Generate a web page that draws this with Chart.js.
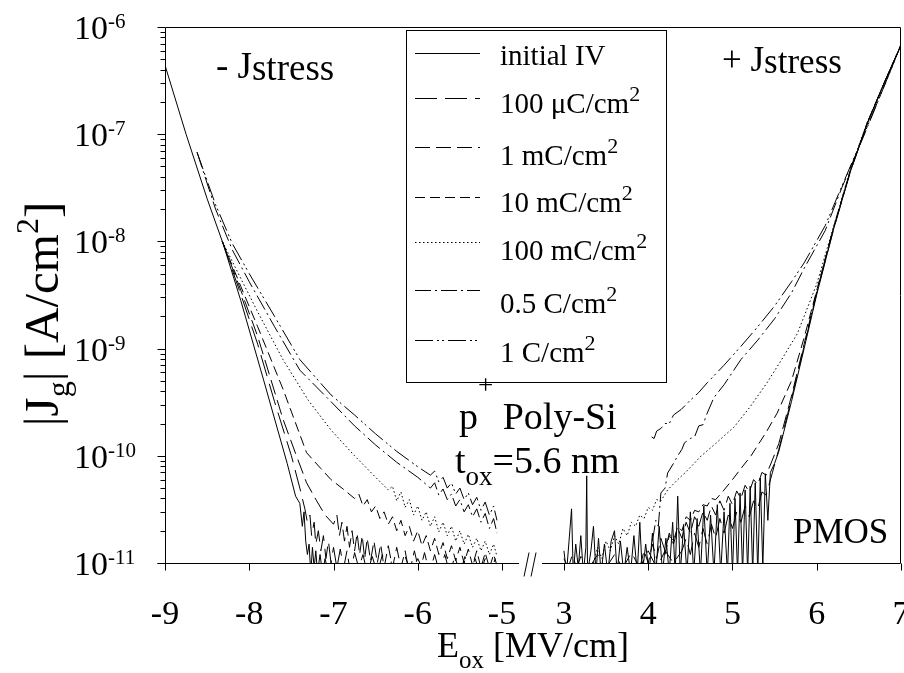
<!DOCTYPE html>
<html>
<head>
<meta charset="utf-8">
<script src="https://cdn.jsdelivr.net/npm/chart.js@4.4.1/dist/chart.umd.min.js"></script>
<style>
  html, body { margin:0; padding:0; background:#fff; }
  #wrap { width:904px; height:673px; }
</style>
</head>
<body>
<div id="wrap"><canvas id="chart" width="904" height="673"></canvas></div>
<script>
// ── DATA ──
// E_ox in MV/cm, |Jg| in A/cm^2

const xTicksNeg = [-9, -8, -7, -6, -5];
const xTicksPos = [3, 4, 5, 6, 7];
const yTickExps = [-6, -7, -8, -9, -10, -11];

const seriesNames = ['initial IV', '100 \u03BCC/cm^2', '1 mC/cm^2', '10 mC/cm^2', '100 mC/cm^2', '0.5 C/cm^2', '1 C/cm^2'];

// negative field branch (- Jstress)
const initialNeg = [[-9.0,4.4e-7],[-8.75,1.0e-7],[-8.5,2.5e-8],[-8.31,9.5e-9],[-8.1,2.8e-9],[-7.83,5.1e-10],[-7.55,8.5e-11],[-7.45,4.2e-11],[-7.4,3.6e-11],[-7.37,2.2e-11],[-7.35,3.0e-11],[-7.33,1.6e-11],[-7.31,1.2e-11],[-7.29,1.5e-11],[-7.27,8e-12],[-7.25,1.4e-11],[-7.23,9e-12],[-7.21,1.3e-11],[-7.19,8e-12],[-7.16,1.2e-11],[-7.13,8e-12],[-7.1,1.1e-11],[-7.06,8e-12]];
const uC100Neg = [[-8.32,1.0e-8],[-8.1,3.2e-9],[-7.9,1.1e-9],[-7.7,3.2e-10],[-7.5,1.0e-10],[-7.4,5.0e-11],[-7.34,3.2e-11],[-7.31,2.4e-11],[-7.28,2.8e-11],[-7.26,1.8e-11],[-7.23,2.4e-11],[-7.21,1.5e-11],[-7.18,2.0e-11],[-7.15,1.3e-11],[-7.12,1.8e-11],[-7.09,1.1e-11],[-7.06,1.6e-11],[-7.03,1.0e-11],[-7.0,1.4e-11],[-6.96,9e-12],[-6.92,1.35e-11],[-6.88,9e-12],[-6.84,1.3e-11],[-6.8,8e-12],[-6.75,1.25e-11],[-6.7,9e-12],[-6.65,1.2e-11],[-6.6,8e-12],[-6.54,1.15e-11],[-6.48,8e-12],[-6.42,1.2e-11],[-6.36,8e-12],[-6.3,1.1e-11],[-6.22,8e-12],[-6.15,1.15e-11],[-6.08,8e-12],[-6.0,1.1e-11],[-5.92,8e-12]];
const mC1Neg = [[-8.32,1.0e-8],[-8.1,3.5e-9],[-7.9,1.3e-9],[-7.6,2.2e-10],[-7.45,1.05e-10],[-7.32,5.6e-11],[-7.2,3.8e-11],[-7.1,2.8e-11],[-7.0,2.3e-11],[-6.96,2.8e-11],[-6.93,1.8e-11],[-6.9,2.4e-11],[-6.87,1.6e-11],[-6.84,2.2e-11],[-6.81,1.4e-11],[-6.78,2.0e-11],[-6.75,1.3e-11],[-6.72,1.9e-11],[-6.69,1.2e-11],[-6.66,1.8e-11],[-6.63,1.1e-11],[-6.6,1.7e-11],[-6.56,1.05e-11],[-6.52,1.6e-11],[-6.48,1.0e-11],[-6.44,1.5e-11],[-6.4,9e-12],[-6.35,1.45e-11],[-6.3,9e-12],[-6.25,1.4e-11],[-6.2,9e-12],[-6.15,1.3e-11],[-6.1,8e-12],[-6.04,1.3e-11],[-5.98,8e-12],[-5.92,1.25e-11],[-5.86,8e-12],[-5.8,1.2e-11],[-5.74,8e-12],[-5.68,1.2e-11],[-5.62,8e-12],[-5.56,1.15e-11],[-5.5,8e-12],[-5.44,1.15e-11],[-5.38,8e-12],[-5.32,1.1e-11],[-5.26,8e-12],[-5.2,1.1e-11],[-5.14,8e-12],[-5.08,1.1e-11]];
const mC10Neg = [[-8.32,1.0e-8],[-8.1,3.8e-9],[-7.9,1.6e-9],[-7.6,4.2e-10],[-7.32,1.07e-10],[-7.15,7.6e-11],[-7.03,6.0e-11],[-6.9,5.0e-11],[-6.75,4.0e-11],[-6.7,4.4e-11],[-6.65,3.4e-11],[-6.6,3.9e-11],[-6.55,3.0e-11],[-6.5,3.4e-11],[-6.45,2.6e-11],[-6.4,3.0e-11],[-6.35,2.3e-11],[-6.3,2.7e-11],[-6.25,2.0e-11],[-6.2,2.5e-11],[-6.15,1.8e-11],[-6.1,2.2e-11],[-6.05,1.6e-11],[-6.0,2.0e-11],[-5.95,1.45e-11],[-5.9,1.8e-11],[-5.85,1.3e-11],[-5.8,1.7e-11],[-5.75,1.2e-11],[-5.7,1.55e-11],[-5.65,1.1e-11],[-5.6,1.45e-11],[-5.55,1.05e-11],[-5.5,1.4e-11],[-5.45,1.0e-11],[-5.4,1.35e-11],[-5.35,9.5e-12],[-5.3,1.3e-11],[-5.25,9e-12],[-5.2,1.25e-11],[-5.15,9e-12],[-5.1,1.2e-11],[-5.06,9.5e-12]];
const mC100Neg = [[-8.32,1.0e-8],[-8.1,4.5e-9],[-7.9,2.2e-9],[-7.6,7.9e-10],[-7.3,3.3e-10],[-7.03,1.74e-10],[-6.75,1.0e-10],[-6.5,6.3e-11],[-6.35,4.8e-11],[-6.3,5.2e-11],[-6.25,3.8e-11],[-6.2,4.6e-11],[-6.15,3.3e-11],[-6.1,3.9e-11],[-6.05,2.8e-11],[-6.0,3.4e-11],[-5.95,2.5e-11],[-5.9,3.0e-11],[-5.85,2.2e-11],[-5.8,2.7e-11],[-5.75,1.95e-11],[-5.7,2.4e-11],[-5.65,1.8e-11],[-5.6,2.2e-11],[-5.55,1.6e-11],[-5.5,2.0e-11],[-5.45,1.5e-11],[-5.4,1.85e-11],[-5.35,1.4e-11],[-5.3,1.7e-11],[-5.25,1.3e-11],[-5.2,1.6e-11],[-5.15,1.2e-11],[-5.1,1.5e-11],[-5.06,1.15e-11]];
const C05Neg = [[-8.62,6.8e-8],[-8.4,2.0e-8],[-8.2,8.3e-9],[-8.0,4.2e-9],[-7.7,1.6e-9],[-7.4,6.3e-10],[-7.03,3.2e-10],[-6.75,1.9e-10],[-6.5,1.26e-10],[-6.25,8.7e-11],[-6.0,6.3e-11],[-5.85,5.0e-11],[-5.8,5.6e-11],[-5.75,4.3e-11],[-5.7,4.9e-11],[-5.65,3.9e-11],[-5.6,4.4e-11],[-5.55,3.4e-11],[-5.5,3.9e-11],[-5.45,3.0e-11],[-5.4,3.5e-11],[-5.35,2.7e-11],[-5.3,3.2e-11],[-5.25,2.4e-11],[-5.2,2.9e-11],[-5.15,2.1e-11],[-5.1,2.6e-11],[-5.06,1.9e-11]];
const C1Neg = [[-8.62,6.8e-8],[-8.4,2.2e-8],[-8.2,9.5e-9],[-8.0,5.0e-9],[-7.7,2.0e-9],[-7.4,7.9e-10],[-7.03,3.7e-10],[-6.75,2.4e-10],[-6.5,1.6e-10],[-6.25,1.1e-10],[-6.0,7.9e-11],[-5.85,6.6e-11],[-5.8,7.2e-11],[-5.75,5.7e-11],[-5.7,6.3e-11],[-5.65,5.0e-11],[-5.6,5.6e-11],[-5.55,4.4e-11],[-5.5,5.0e-11],[-5.45,3.9e-11],[-5.4,4.5e-11],[-5.35,3.5e-11],[-5.3,4.1e-11],[-5.25,3.1e-11],[-5.2,3.7e-11],[-5.15,2.8e-11],[-5.1,3.4e-11],[-5.06,2.5e-11]];

// positive field branch (+ Jstress)
const initialPos = [[3.0,1.3e-11],[3.03,8e-12],[3.06,1.6e-11],[3.09,3.2e-11],[3.11,8e-12],[3.14,1.5e-11],[3.17,9e-12],[3.2,1.8e-11],[3.23,8e-12],[3.26,1.4e-11],[3.27,6.5e-11],[3.28,8e-12],[3.32,1.3e-11],[3.35,2.2e-11],[3.38,8e-12],[3.41,1.7e-11],[3.44,8e-12],[3.48,1.5e-11],[3.52,8e-12],[3.56,1.6e-11],[3.6,2.0e-11],[3.63,8e-12],[3.67,1.6e-11],[3.71,8e-12],[3.75,1.4e-11],[3.79,8e-12],[3.83,1.8e-11],[3.87,8e-12],[3.9,2.4e-11],[3.93,8e-12],[3.97,1.5e-11],[4.01,8e-12],[4.05,1.9e-11],[4.09,8e-12],[4.13,2.2e-11],[4.17,8e-12],[4.21,1.7e-11],[4.25,8e-12],[4.29,2.4e-11],[4.32,8e-12],[4.35,4.2e-11],[4.38,8e-12],[4.42,2.2e-11],[4.46,8e-12],[4.5,3.0e-11],[4.54,8e-12],[4.58,2.6e-11],[4.62,8e-12],[4.66,3.4e-11],[4.7,8e-12],[4.74,2.8e-11],[4.78,8e-12],[4.82,3.5e-11],[4.86,8e-12],[4.9,3.0e-11],[4.94,8e-12],[4.97,3.6e-11],[5.0,8e-12],[5.03,4.0e-11],[5.06,8e-12],[5.09,4.5e-11],[5.12,8e-12],[5.15,4.8e-11],[5.18,8e-12],[5.21,5.2e-11],[5.24,8e-12],[5.27,5.6e-11],[5.3,8e-12],[5.33,6.2e-11],[5.36,9e-12],[5.39,6.8e-11],[5.42,2.5e-11],[5.45,7.0e-11],[5.5,8.5e-11],[5.55,1.1e-10],[5.7,3.2e-10],[5.85,1.0e-9],[6.0,3.2e-9],[6.2,1.3e-8],[6.4,4.5e-8],[6.6,1.26e-7],[6.8,3.0e-7],[7.0,6.8e-7]];
const uC100Pos = [[3.0,1.1e-11],[3.05,9e-12],[3.1,1.2e-11],[3.15,9e-12],[3.2,1.15e-11],[3.3,9e-12],[3.4,1.2e-11],[3.5,9e-12],[3.6,1.2e-11],[3.7,9e-12],[3.8,1.25e-11],[3.9,9e-12],[4.0,1.3e-11],[4.1,9e-12],[4.2,1.3e-11],[4.3,1.0e-11],[4.4,1.3e-11],[4.45,1.7e-11],[4.5,1.2e-11],[4.55,1.9e-11],[4.6,1.4e-11],[4.65,2.1e-11],[4.7,1.5e-11],[4.75,2.3e-11],[4.8,1.7e-11],[4.85,2.6e-11],[4.9,1.9e-11],[4.95,2.8e-11],[5.0,2.1e-11],[5.05,3.0e-11],[5.1,2.4e-11],[5.15,3.4e-11],[5.2,2.7e-11],[5.25,3.8e-11],[5.3,3.2e-11],[5.35,4.6e-11],[5.4,4.3e-11],[5.47,6.8e-11],[5.55,1.15e-10],[5.7,3.4e-10],[5.85,1.05e-9],[6.0,3.3e-9],[6.2,1.3e-8],[6.4,4.5e-8],[6.6,1.26e-7],[6.8,3.0e-7],[7.0,6.8e-7]];
const mC1Pos = [[3.9,9e-12],[3.95,1.3e-11],[4.0,1.0e-11],[4.05,1.5e-11],[4.1,1.1e-11],[4.15,1.7e-11],[4.2,1.3e-11],[4.25,1.9e-11],[4.3,1.5e-11],[4.35,2.1e-11],[4.4,1.7e-11],[4.45,2.4e-11],[4.5,1.9e-11],[4.55,2.7e-11],[4.6,2.2e-11],[4.65,3.0e-11],[4.7,2.5e-11],[4.75,3.4e-11],[4.8,2.8e-11],[4.85,3.8e-11],[4.9,3.1e-11],[4.95,4.2e-11],[5.0,3.5e-11],[5.05,4.7e-11],[5.1,4.0e-11],[5.15,5.3e-11],[5.2,4.6e-11],[5.25,6.0e-11],[5.3,5.4e-11],[5.35,7.0e-11],[5.4,6.6e-11],[5.47,9.0e-11],[5.55,1.3e-10],[5.7,3.6e-10],[5.85,1.1e-9],[6.0,3.4e-9],[6.2,1.35e-8],[6.4,4.6e-8],[6.6,1.27e-7],[6.8,3.0e-7],[7.0,6.8e-7]];
const mC10Pos = [[4.2,1.2e-11],[4.25,1.8e-11],[4.3,1.6e-11],[4.35,2.2e-11],[4.4,2.0e-11],[4.45,2.7e-11],[4.5,2.5e-11],[4.55,3.1e-11],[4.6,3.0e-11],[4.65,3.5e-11],[4.7,3.4e-11],[4.75,4.0e-11],[4.8,3.9e-11],[4.9,4.8e-11],[5.0,6.0e-11],[5.1,7.6e-11],[5.22,1.0e-10],[5.4,1.66e-10],[5.53,2.5e-10],[5.7,5.0e-10],[5.85,1.26e-9],[6.0,3.5e-9],[6.2,1.35e-8],[6.4,4.6e-8],[6.6,1.28e-7],[6.8,3.0e-7],[7.0,6.8e-7]];
const mC100Pos = [[3.35,1.0e-11],[3.4,1.4e-11],[3.45,1.1e-11],[3.5,1.6e-11],[3.55,1.3e-11],[3.6,1.8e-11],[3.65,1.5e-11],[3.7,2.1e-11],[3.75,1.8e-11],[3.8,2.4e-11],[3.85,2.2e-11],[3.9,2.8e-11],[3.95,2.6e-11],[4.0,3.3e-11],[4.05,3.1e-11],[4.1,3.9e-11],[4.15,3.8e-11],[4.23,4.8e-11],[4.35,6.0e-11],[4.45,7.1e-11],[4.63,1.0e-10],[4.8,1.3e-10],[5.02,1.86e-10],[5.2,2.8e-10],[5.41,4.8e-10],[5.6,8.3e-10],[5.77,1.38e-9],[6.0,4.0e-9],[6.2,1.38e-8],[6.4,4.7e-8],[6.6,1.3e-7],[6.8,3.0e-7],[7.0,6.8e-7]];
const C05Pos = [[4.05,1.6e-11],[4.09,2.5e-11],[4.12,2.2e-11],[4.15,4.5e-11],[4.2,5.0e-11],[4.23,6.9e-11],[4.3,8.5e-11],[4.35,1.0e-10],[4.4,1.15e-10],[4.43,1.32e-10],[4.5,1.45e-10],[4.55,1.5e-10],[4.6,1.9e-10],[4.65,1.95e-10],[4.7,2.5e-10],[4.78,3.5e-10],[4.9,4.6e-10],[5.1,7.9e-10],[5.3,1.2e-9],[5.5,1.9e-9],[5.7,3.3e-9],[5.85,5.6e-9],[6.1,1.26e-8],[6.3,3.2e-8],[6.55,9.3e-8],[6.8,2.8e-7],[7.0,6.8e-7]];
const C1Pos = [[4.04,1.5e-10],[4.07,1.45e-10],[4.1,1.7e-10],[4.15,1.8e-10],[4.2,2.0e-10],[4.25,2.0e-10],[4.3,2.4e-10],[4.39,2.7e-10],[4.5,3.3e-10],[4.6,3.9e-10],[4.7,4.8e-10],[4.9,7.0e-10],[5.1,1.05e-9],[5.3,1.6e-9],[5.5,2.5e-9],[5.7,4.2e-9],[5.85,6.3e-9],[6.1,1.4e-8],[6.3,3.3e-8],[6.55,9.5e-8],[6.8,2.8e-7],[7.0,6.8e-7]];

// ── LAYOUT / STYLE ──
const FONT = '"Liberation Serif", "Times New Roman", serif';
const X_SHIFT = 7.265;               // 3 MV/cm sits just right of -5 MV/cm, with a broken axis
const toPlotX = x => (x > 0 ? x - X_SHIFT : x);
const dashes = [[], [22, 8], [15, 6], [10, 5], [1.5, 2.5], [16, 4, 2, 4], [18, 4, 2, 3, 2, 4]];

const branches = [
    [initialNeg, initialPos], [uC100Neg, uC100Pos], [mC1Neg, mC1Pos], [mC10Neg, mC10Pos],
    [mC100Neg, mC100Pos], [C05Neg, C05Pos], [C1Neg, C1Pos]
];

const datasets = [];
branches.forEach((pair, i) => {
    pair.forEach(arr => datasets.push({
        label: seriesNames[i],
        data: arr.map(p => ({ x: toPlotX(p[0]), y: p[1] })),
        showLine: true, tension: 0, pointRadius: 0,
        borderColor: '#000', borderWidth: 1, borderDash: dashes[i], fill: false
    }));
});

// text in runs, for sub/superscripts
function runs(ctx, x, y, parts) {
    parts.forEach(p => {
        ctx.font = p.size + 'px ' + FONT;
        ctx.fillText(p.t, x, y + (p.dy || 0));
        x += ctx.measureText(p.t).width;
    });
    return x;
}
function runsWidth(ctx, parts) {
    return parts.reduce((w, p) => { ctx.font = p.size + 'px ' + FONT; return w + ctx.measureText(p.t).width; }, 0);
}

const decor = {
    id: 'decor',
    afterDraw(chart) {
        const ctx = chart.ctx, ca = chart.chartArea;
        const xs = chart.scales.x, ys = chart.scales.y;
        ctx.save();
        ctx.strokeStyle = '#000';
        ctx.fillStyle = '#000';
        ctx.lineWidth = 1;
        ctx.setLineDash([]);

        const L = ca.left + 0.5, R = ca.right - 0.5, T = ca.top + 0.5, B = ca.bottom + 0.5;
        const gapA = xs.getPixelForValue(-5) + 17, gapB = xs.getPixelForValue(toPlotX(3)) - 22;

        ctx.beginPath();
        ctx.moveTo(L, T); ctx.lineTo(R, T); ctx.lineTo(R, B);
        ctx.moveTo(L, T); ctx.lineTo(L, B);
        ctx.moveTo(L - 8, B); ctx.lineTo(gapA, B);
        ctx.moveTo(gapB, B); ctx.lineTo(R, B);
        // axis break marks
        ctx.moveTo(gapA + 5, B + 13); ctx.lineTo(gapA + 10, B - 11);
        ctx.moveTo(gapA + 12, B + 13); ctx.lineTo(gapA + 17, B - 11);
        ctx.stroke();

        // y ticks, major + minor
        ctx.beginPath();
        yTickExps.forEach(e => {
            const py = Math.round(ys.getPixelForValue(Math.pow(10, e))) + 0.5;
            ctx.moveTo(L - 8, py); ctx.lineTo(L, py);
            if (e > -6) return;
            for (let m = 2; m <= 9; m++) {
                const v = m * Math.pow(10, e);
                if (v > 1e-6) break;
                const my = Math.round(ys.getPixelForValue(v)) + 0.5;
                ctx.moveTo(L - 5, my); ctx.lineTo(L, my);
            }
        });
        // x ticks
        xTicksNeg.concat(xTicksPos).forEach(v => {
            const px = Math.round(xs.getPixelForValue(toPlotX(v))) + 0.5;
            ctx.moveTo(px, B); ctx.lineTo(px, B + 7);
        });
        ctx.stroke();

        // tick labels
        ctx.textBaseline = 'alphabetic';
        ctx.textAlign = 'left';
        yTickExps.forEach(e => {
            const py = ys.getPixelForValue(Math.pow(10, e));
            runs(ctx, 74, py + 12, [{ t: '10', size: 34 }, { t: String(e), size: 21, dy: -11 }]);
        });
        ctx.textAlign = 'center';
        ctx.font = '34px ' + FONT;
        xTicksNeg.concat(xTicksPos).forEach(v => {
            ctx.fillText(String(v), xs.getPixelForValue(toPlotX(v)), 624);
        });
        ctx.textAlign = 'left';

        // axis titles
        const xt = [{ t: 'E', size: 36 }, { t: 'ox', size: 25, dy: 11 }, { t: ' [MV/cm]', size: 36 }];
        runs(ctx, 533 - runsWidth(ctx, xt) / 2, 657, xt);

        const yt = [{ t: '|J', size: 49 }, { t: 'g', size: 32, dy: 11 }, { t: '| [A/cm', size: 49 }, { t: '2', size: 32, dy: -20 }, { t: ']', size: 49 }];
        ctx.save();
        ctx.translate(58, 314);
        ctx.rotate(-Math.PI / 2);
        runs(ctx, -runsWidth(ctx, yt) / 2, 0, yt);
        ctx.restore();

        // legend box
        const bx = 406.5, by = 30.5, bw = 260, bh = 352;
        ctx.fillStyle = '#fff';
        ctx.fillRect(bx, by, bw, bh);
        ctx.fillStyle = '#000';
        ctx.strokeRect(bx, by, bw, bh);
        const sampleY = [53, 98, 147, 197, 242, 290, 340];
        const textY = [65, 113, 165, 212, 260, 313, 362];
        seriesNames.forEach((name, i) => {
            ctx.setLineDash(dashes[i]);
            ctx.beginPath();
            ctx.moveTo(415, sampleY[i] + 0.5);
            ctx.lineTo(480, sampleY[i] + 0.5);
            ctx.stroke();
            ctx.setLineDash([]);
            const bits = name.split('^');
            const parts = [{ t: bits[0], size: 29 }];
            if (bits[1]) parts.push({ t: bits[1], size: 22, dy: -12 });
            runs(ctx, 500, textY[i], parts);
        });

        // annotations
        runs(ctx, 216, 78, [{ t: '- J', size: 37 }, { t: 'stress', size: 37, dy: 2 }]);
        runs(ctx, 722, 71, [{ t: '+ J', size: 35 }, { t: 'stress', size: 35, dy: 2 }]);
        runs(ctx, 459, 429, [{ t: 'p', size: 38 }, { t: '+', size: 27, dy: -35 }, { t: ' Poly-Si', size: 38 }]);
        runs(ctx, 455, 473, [{ t: 't', size: 38 }, { t: 'ox', size: 27, dy: 12 }, { t: '=5.6 nm', size: 38 }]);
        runs(ctx, 793, 543, [{ t: 'PMOS', size: 35 }]);
        ctx.restore();
    }
};

new Chart(document.getElementById('chart'), {
    type: 'scatter',
    data: { datasets },
    options: {
        responsive: false,
        animation: false,
        devicePixelRatio: 1,
        layout: { padding: { left: 165, top: 27, right: 3, bottom: 110 } },
        plugins: { legend: { display: false }, tooltip: { enabled: false } },
        scales: {
            x: { type: 'linear', min: -9, max: 7 - X_SHIFT, display: false },
            y: { type: 'logarithmic', min: 1e-11, max: 1e-6, display: false }
        }
    },
    plugins: [decor]
});
</script>
</body>
</html>
